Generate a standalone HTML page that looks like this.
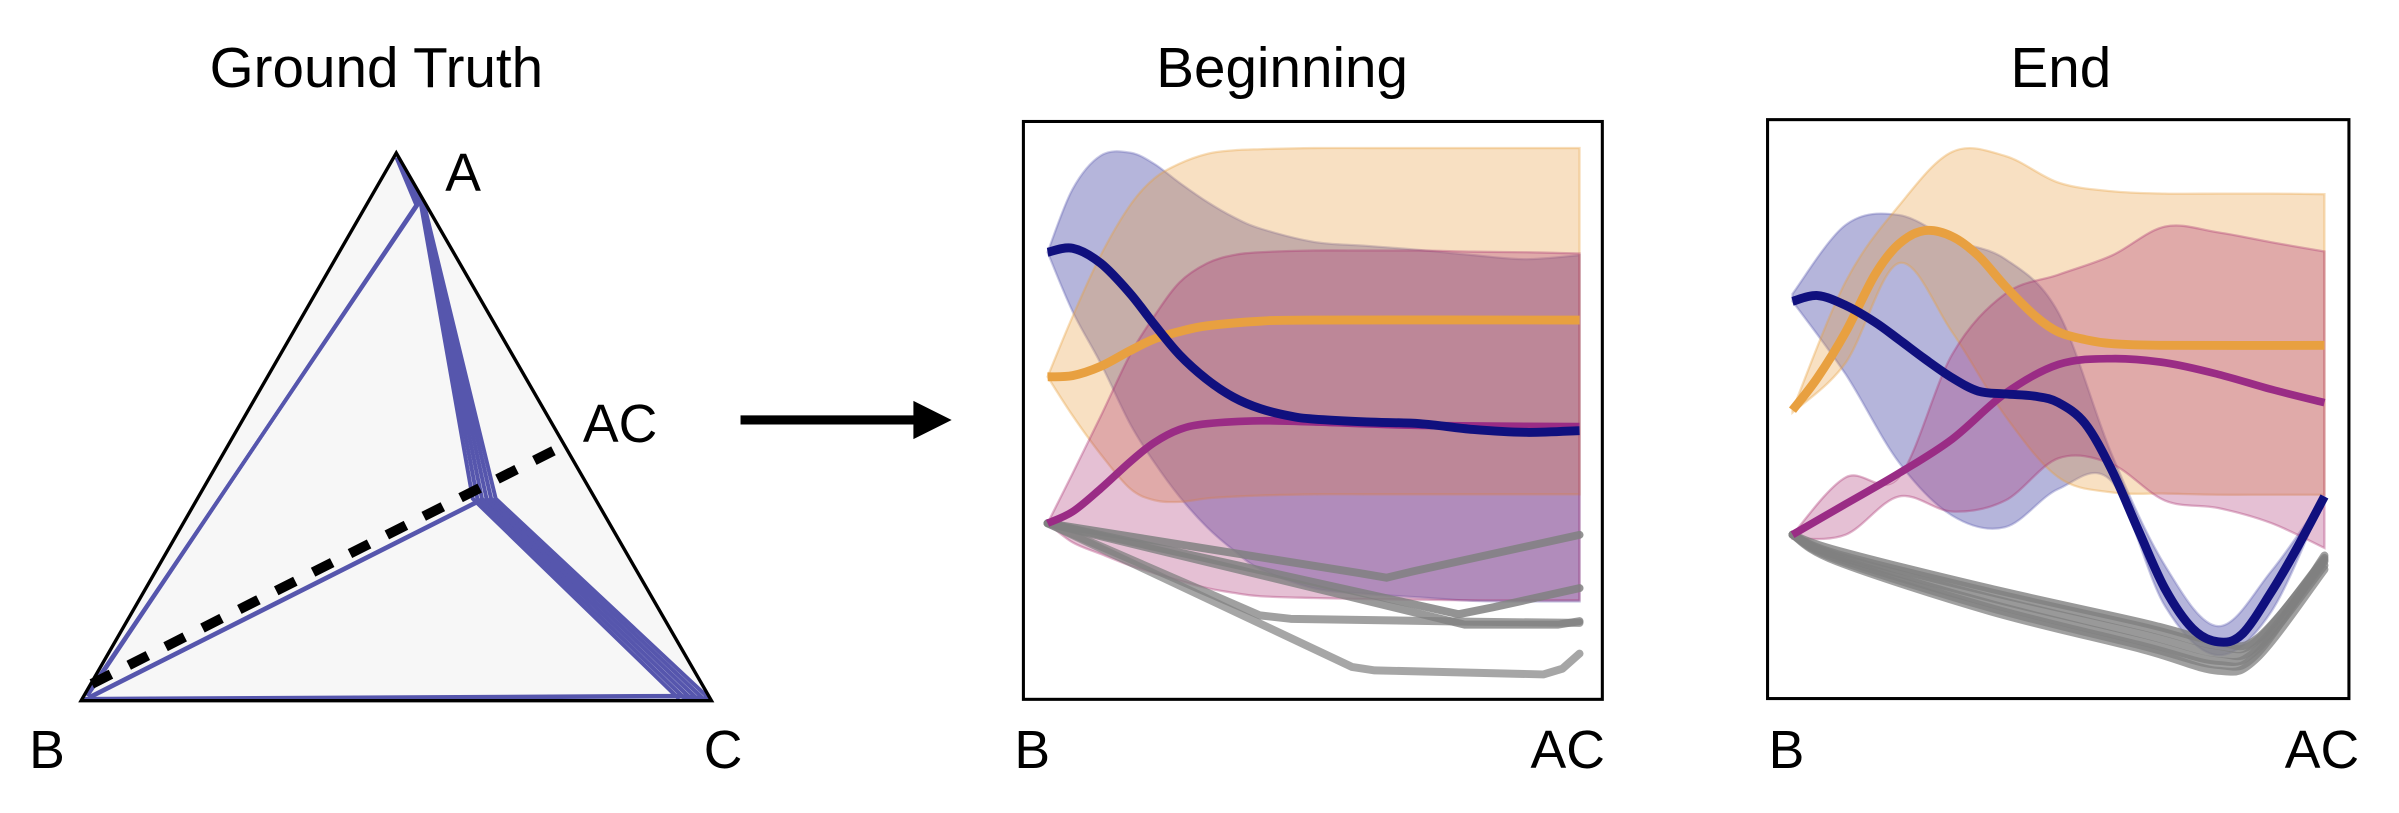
<!DOCTYPE html>
<html><head><meta charset="utf-8">
<style>
html,body{margin:0;padding:0;background:#fff;}
svg{display:block;}
text{font-family:"Liberation Sans",Arial,sans-serif;fill:#000;}
</style></head>
<body>
<svg id="fig" width="2399" height="813" viewBox="0 0 1568 531.4" xmlns="http://www.w3.org/2000/svg">
  <rect x="0" y="0" width="1568" height="531.4" fill="#fff"/>
  <text x="246" y="57" font-size="37" text-anchor="middle">Ground Truth</text>
  <text x="838" y="57" font-size="37" text-anchor="middle">Beginning</text>
  <text x="1347" y="57" font-size="37" text-anchor="middle">End</text>

  <g id="simplex"></g>

  <g>
    <line x1="484" y1="274.5" x2="600" y2="274.5" stroke="#000" stroke-width="6"/>
    <polygon points="597,262 622,274.5 597,287" fill="#000"/>
  </g>

  <g id="pBeg"></g>
  <g id="pEnd"></g>

  <text x="19" y="502" font-size="35">B</text>
  <text x="460" y="502" font-size="35">C</text>
  <text x="291" y="125" font-size="35">A</text>
  <text x="381" y="289" font-size="35">AC</text>
  <text x="663" y="502" font-size="35">B</text>
  <text x="1049" y="502" font-size="35" text-anchor="end">AC</text>
  <text x="1156" y="502" font-size="35">B</text>
  <text x="1542" y="502" font-size="35" text-anchor="end">AC</text>
</svg>
<script>
// ---------- Beginning panel data (x: 0..100 from B to AC, y: 0..100 bottom to top) ----------
const bNavyX=[0,4.7,10,15.5,20,24.8,30,34.9,40,45.7,50,60,70,80,90,100];
const bNavyY=[77.2,77.9,75.3,70.1,64.8,59.5,55.2,52.2,50.2,48.9,48.4,47.9,47.6,46.6,46.1,46.4];
const bOrangeX=[0,4.7,10,15.5,20,24.8,30,40,50,100];
const bOrangeY=[55.7,55.9,57.5,60.2,62.2,63.5,64.5,65.3,65.5,65.5];
const bMagX=[0,4.7,10,15.5,20,24.8,30,40,50,70,100];
const bMagY=[30.4,32.4,36.4,41.0,44.3,46.6,47.6,48.1,47.9,47.3,47.1];
const bBandX=[0,4.7,10,15.5,20,24.8,30,34.9,40,50,60,70,80,90,100];
const bBlueHi=[77.2,88.1,93.9,94.4,92.5,89.2,85.9,83.3,81.3,79.0,78.3,77.6,76.7,76.0,76.7];
const bBlueLo=[77.2,67.0,58.0,47.6,41.0,35.0,29.7,25.8,22.5,19.2,18.2,17.6,17.0,16.9,16.9];
const bOrHi=[55.7,66.1,76.7,85.3,89.9,92.5,94.2,94.8,95.0,95.2,95.2,95.2,95.2,95.2,95.2];
const bOrLo=[55.7,49.0,42.3,36.4,34.4,34.1,34.7,35.0,35.2,35.4,35.4,35.4,35.4,35.4,35.4];
const bMagHi=[30.4,39.0,48.9,59.5,66.1,72.0,75.3,76.7,77.2,77.5,77.5,77.5,77.3,77.2,77.0];
const bMagLo=[30.4,27.1,25.1,23.1,21.8,20.5,19.2,18.4,17.8,17.5,17.3,17.2,17.1,17.1,17.1];
const bGray1X=[0,58.6,63.7,68.7,100];
const bGray1Y=[30.4,21.8,21.0,22.1,28.4];
const bGray2X=[0,77.3,83.8,100];
const bGray2Y=[30.4,14.7,15.9,19.2];
const bGray3X=[0,78.4,96,100];
const bGray3Y=[30.4,12.9,12.9,13.5];
const bGray4X=[0,39.9,45.7,80,100];
const bGray4Y=[30.4,14.5,13.9,13.4,13.2];
const bGray5X=[0,57.2,61.5,93.2,96.8,100];
const bGray5Y=[30.4,5.6,5.0,4.3,5.3,7.9];

// ---------- End panel data ----------
const eNavyX=[0,4.7,10,15.5,20,24.8,30,34.9,40,45.7,50,55,60,65.1,70,75.2,80,84.5,90,94.6,100];
const eNavyY=[68.6,69.6,67.9,65.0,62.0,58.7,55.4,53.1,52.6,52.2,51.1,47.5,39.5,28.9,19.0,12.1,9.8,11.1,18.4,25.6,34.9];
const eOrangeX=[0,4.7,10,15.5,20,24.8,30,34.9,40,45.7,50,55,60,70,100];
const eOrangeY=[49.8,55.4,63.3,73.2,78.5,80.8,79.8,76.5,71.2,66.0,63.3,62.0,61.3,61.0,61.0];
const eMagX=[0,10,20,30,40,50,60,70,80,90,100];
const eMagY=[28.3,33.6,38.9,44.8,52.7,57.7,58.7,58.0,56.0,53.4,51.1];
const eBandX=[0,10,20,30,40,50,60,70,80,90,100];
const eBlueHi=[69.9,81.8,83.5,79.2,75.9,66.6,42.2,23.0,12.5,22.0,34.9];
const eBlueLo=[68.6,56.0,40.8,31.6,29.6,36.2,37.5,16.0,7.5,15.0,34.9];
const eOrHi=[49.8,72.0,85.1,94.4,93.7,89.1,87.6,87.2,87.2,87.2,87.1];
const eOrLo=[49.4,58.0,75.2,63.3,48.8,38.2,35.6,35.4,35.2,35.2,35.2];
const eMagHi=[28.3,38.2,38.2,59.4,69.9,73.2,76.5,81.5,80.5,78.8,77.2];
const eMagLo=[27.6,28.3,34.9,32.3,34.2,41.5,40.5,34.2,32.9,30.3,26.0];
const eGrayX=[0,8.3,37.1,65.8,80,87.4,100];
const eGray1Y=[28.3,25.0,18.4,12.4,9.1,10.1,24.3];
const eGray2Y=[28.3,24.3,16.4,9.8,6.5,8.5,23.0];
const eGray3Y=[28.3,23.7,15.1,8.5,4.8,7.1,22.3];
const eGray4Y=[28.3,24.7,17.4,11.1,7.8,9.1,23.7];
const eGray5Y=[28.3,24.0,15.7,9.1,5.8,7.8,24.7];
const eGray6Y=[28.3,25.6,19.0,13.1,9.8,10.4,24.0];

const NS="http://www.w3.org/2000/svg";
function mk(tag,attrs,parent){const e=document.createElementNS(NS,tag);for(const k in attrs)e.setAttribute(k,attrs[k]);parent.appendChild(e);return e;}

function makePanel(boxL,boxT,boxR,boxB,x0,bottom){
  const w=347.7,k=3.785;
  return {boxL,boxT,boxR,boxB,
    sx:t=>x0+t/100*w,
    sy:v=>bottom-v*k};
}
function crPath(pts,move){
  let d=move?`M${pts[0][0].toFixed(2)},${pts[0][1].toFixed(2)}`:`L${pts[0][0].toFixed(2)},${pts[0][1].toFixed(2)}`;
  for(let i=0;i<pts.length-1;i++){
    const p0=pts[i-1]||pts[i],p1=pts[i],p2=pts[i+1],p3=pts[i+2]||p2;
    const c1=[p1[0]+(p2[0]-p0[0])/6,p1[1]+(p2[1]-p0[1])/6];
    const c2=[p2[0]-(p3[0]-p1[0])/6,p2[1]-(p3[1]-p1[1])/6];
    d+=`C${c1[0].toFixed(2)},${c1[1].toFixed(2)} ${c2[0].toFixed(2)},${c2[1].toFixed(2)} ${p2[0].toFixed(2)},${p2[1].toFixed(2)}`;
  }
  return d;
}
function linPath(pts){return 'M'+pts.map(p=>p[0].toFixed(2)+','+p[1].toFixed(2)).join(' L');}
function pts(P,xs,ys){return xs.map((x,i)=>[P.sx(x),P.sy(ys[i])]);}

function drawPanel(g,P,bands,grays,lines,grayLinear){
  mk('rect',{x:P.boxL,y:P.boxT,width:P.boxR-P.boxL,height:P.boxB-P.boxT,fill:'#fff',stroke:'none'},g);
  bands.forEach(b=>{
    const up=pts(P,b.x,b.hi),lo=pts(P,b.x,b.lo).reverse();
    const d=crPath(up,true)+crPath(lo,false)+'Z';
    const el=mk('path',{d:d,fill:b.fill,'fill-opacity':b.op,stroke:b.fill,'stroke-opacity':0.35,'stroke-width':1.5},g);
    
    
  });
  grays.forEach(s=>{
    const p=pts(P,s.x,s.y);
    const el=mk('path',{d:grayLinear?linPath(p):crPath(p,true),fill:'none',stroke:'#808080','stroke-opacity':s.op,'stroke-width':5.2,'stroke-linejoin':'round','stroke-linecap':'round'},g);
    
    
  });
  lines.forEach(s=>{
    const el=mk('path',{d:crPath(pts(P,s.x,s.y),true),fill:'none',stroke:s.c,'stroke-width':s.w},g);
    
    
  });
  const fr=mk('rect',{x:P.boxL,y:P.boxT,width:P.boxR-P.boxL,height:P.boxB-P.boxT,fill:'none',stroke:'#000','stroke-width':2},g);
  
  
}

const BLUE='#6464b4',ORANGE='#e8a040',MAG='#a83070';
const PB=makePanel(668.9,79.4,1047.3,457.1,684.7,457.1);
drawPanel(document.getElementById('pBeg'),PB,
 [{name:'blue-band',x:bBandX,hi:bBlueHi,lo:bBlueLo,fill:BLUE,op:0.48},
  {name:'orange-band',x:bBandX,hi:bOrHi,lo:bOrLo,fill:ORANGE,op:0.32},
  {name:'magenta-band',x:bBandX,hi:bMagHi,lo:bMagLo,fill:MAG,op:0.3}],
 [{name:'gray-line-1',x:bGray1X,y:bGray1Y,op:0.85},
  {name:'gray-line-2',x:bGray2X,y:bGray2Y,op:0.85},
  {name:'gray-line-3',x:bGray3X,y:bGray3Y,op:0.8},
  {name:'gray-line-4',x:bGray4X,y:bGray4Y,op:0.75},
  {name:'gray-line-5',x:bGray5X,y:bGray5Y,op:0.7}],
 [{name:'magenta-line',x:bMagX,y:bMagY,c:'#9a2c85',w:5},
  {name:'orange-line',x:bOrangeX,y:bOrangeY,c:ORANGE,w:5.8},
  {name:'navy-line',x:bNavyX,y:bNavyY,c:'#10107e',w:5.8}],true);

const PE=makePanel(1155.3,78.2,1535.3,456.6,1171.6,456.6);
drawPanel(document.getElementById('pEnd'),PE,
 [{name:'blue-band',x:eBandX,hi:eBlueHi,lo:eBlueLo,fill:BLUE,op:0.48},
  {name:'orange-band',x:eBandX,hi:eOrHi,lo:eOrLo,fill:ORANGE,op:0.32},
  {name:'magenta-band',x:eBandX,hi:eMagHi,lo:eMagLo,fill:MAG,op:0.3}],
 [{name:'gray-line-1',x:eGrayX,y:eGray1Y,op:0.8},
  {name:'gray-line-2',x:eGrayX,y:eGray2Y,op:0.8},
  {name:'gray-line-3',x:eGrayX,y:eGray3Y,op:0.75},
  {name:'gray-line-4',x:eGrayX,y:eGray4Y,op:0.8},
  {name:'gray-line-5',x:eGrayX,y:eGray5Y,op:0.75},
  {name:'gray-line-6',x:eGrayX,y:eGray6Y,op:0.8}],
 [{name:'magenta-line',x:eMagX,y:eMagY,c:'#9a2c85',w:5},
  {name:'orange-line',x:eOrangeX,y:eOrangeY,c:ORANGE,w:5.8},
  {name:'navy-line',x:eNavyX,y:eNavyY,c:'#10107e',w:5.8}],false);

// ---------- Ground truth simplex ----------
const triA=[259,100],triB=[53,458],triC=[465,458];
const gtKinkX=[271,272,273,274];
const gtJunctionX=[309,312,315,318,321,324];
const sg=document.getElementById('simplex');
const tri=mk('polygon',{points:[triA,triB,triC].map(p=>p.join(',')).join(' '),fill:'#f7f7f7',stroke:'none'},sg);


const LB='#5656ad';
function ln(pp,w,name){const el=mk('polyline',{points:pp.map(p=>p.join(',')).join(' '),fill:'none',stroke:LB,'stroke-width':w,'stroke-linejoin':'round'},sg);
  
  }
gtKinkX.forEach((kx,i)=>{
  ln([[57,455-i*0.5],[kx+1,134-i],[259+i*0.5,103]],2.4,'trajectory-left');
});
gtJunctionX.forEach((jx,i)=>{
  ln([[260,103],[275+i*0.4,133],[jx,326],[444+i*4,457]],2.6,'trajectory-right');
});
ln([[58,456],[312,328]],3,'trajectory-junction-b');
ln([[54,457],[444,455],[463,457]],3,'trajectory-bottom');
const out=mk('polygon',{points:[triA,triB,triC].map(p=>p.join(',')).join(' '),fill:'none',stroke:'#000','stroke-width':2.2,'stroke-linejoin':'miter'},sg);


const dash=mk('line',{x1:60,y1:447,x2:367,y2:292,stroke:'#000','stroke-width':6.5,'stroke-dasharray':'14 13'},sg);


</script>
</body></html>
